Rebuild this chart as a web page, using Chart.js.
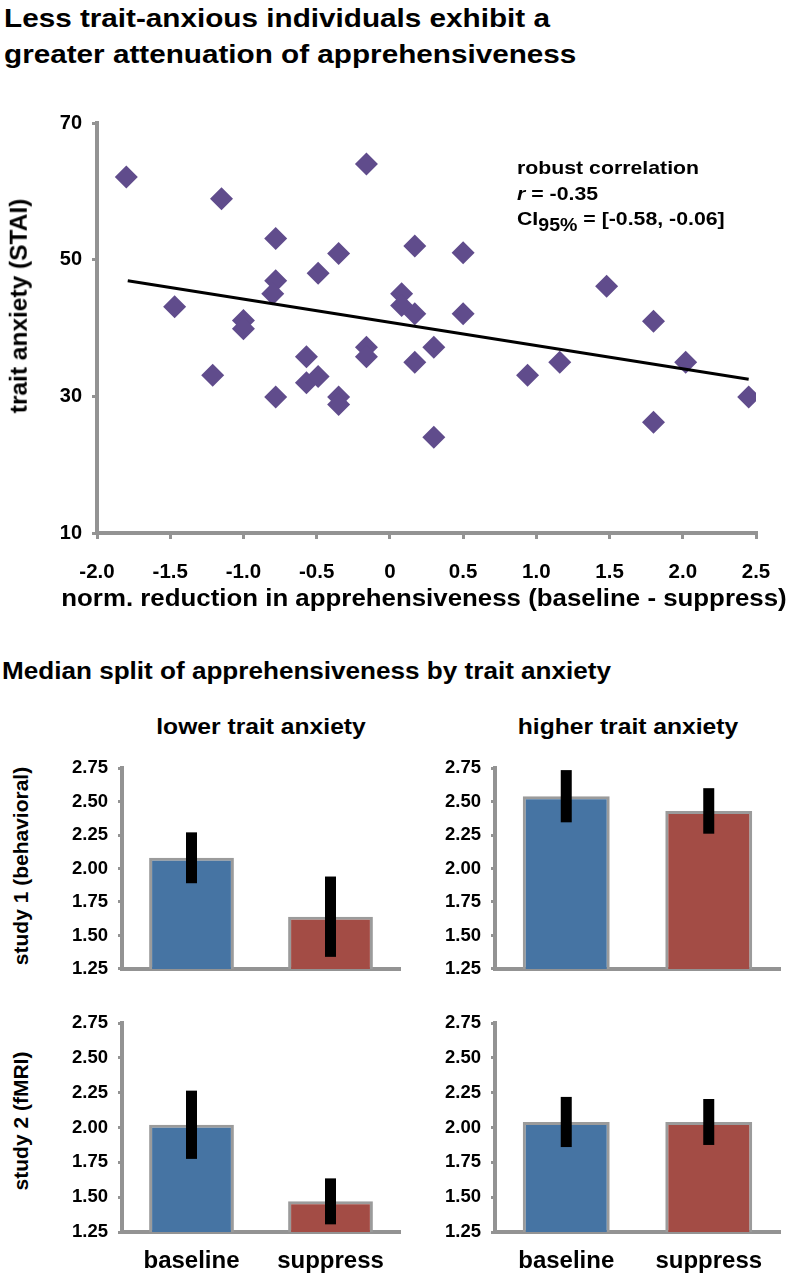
<!DOCTYPE html>
<html>
<head>
<meta charset="utf-8">
<script src="https://cdn.jsdelivr.net/npm/chart.js@4.4.1/dist/chart.umd.min.js"></script>
<style>
  body { margin: 0; background: #fff; }
  #page { position: relative; width: 796px; height: 1277px; overflow: hidden;
          font-family: 'Liberation Sans', Arial, Helvetica, sans-serif; font-weight: bold; color: #000; }
  .txt { position: absolute; white-space: nowrap; line-height: 1; }
  .stretch { transform-origin: 0 0; transform: scaleX(1.12); }
  .ctr { transform: translate(-50%, -50%) scaleX(1.12); }
  .rot { transform: translate(-50%, -50%) rotate(-90deg); }
  canvas { position: absolute; }
  sub { font-size: 0.92em; vertical-align: -6px; line-height: 0; }
</style>
</head>
<body>
<div id="page">
  <!-- titles -->
  <div class="txt stretch" style="left:4px; top:4.5px; font-size:26.5px">Less trait-anxious individuals exhibit a</div>
  <div class="txt stretch" style="left:4px; top:40.5px; font-size:26.5px">greater attenuation of apprehensiveness</div>

  <!-- scatter -->
  <canvas id="scatter" width="796" height="490" style="left:0; top:100px"></canvas>
  <div class="txt rot" style="left:19px; top:306px; font-size:24.5px">trait anxiety (STAI)</div>
  <div class="txt" style="left:424px; top:599px; font-size:23.5px; transform:translate(-50%, -50%) scaleX(1.1)">norm. reduction in apprehensiveness (baseline - suppress)</div>
  <div class="txt stretch" style="left:517px; top:158px; font-size:19px">robust correlation</div>
  <div class="txt stretch" style="left:517px; top:184px; font-size:19px"><i>r</i> = -0.35</div>
  <div class="txt stretch" style="left:517px; top:209px; font-size:19px">CI<sub>95%</sub> = [-0.58, -0.06]</div>

  <!-- bar panels -->
  <div class="txt stretch" style="left:2px; top:660px; font-size:23.3px">Median split of apprehensiveness by trait anxiety</div>
  <div class="txt ctr" style="left:261px; top:727px; font-size:22px">lower trait anxiety</div>
  <div class="txt ctr" style="left:628px; top:727px; font-size:22px">higher trait anxiety</div>
  <div class="txt rot" style="left:20px; top:866px; font-size:21px">study 1 (behavioral)</div>
  <div class="txt rot" style="left:20px; top:1121px; font-size:21px">study 2 (fMRI)</div>

  <canvas id="s1low" width="370" height="243" style="left:40px; top:747px"></canvas>
  <canvas id="s1high" width="377" height="243" style="left:413px; top:747px"></canvas>
  <canvas id="s2low" width="370" height="275" style="left:40px; top:1002px"></canvas>
  <canvas id="s2high" width="377" height="275" style="left:413px; top:1002px"></canvas>
</div>
<script>
  // scatter: norm. reduction (x) vs trait anxiety (y)
  var reduction = [-1.80, -1.47, -1.15, -0.78, -1.00, -1.00, -0.78, -0.80, -0.49, -0.35, -0.16, -0.57,
                   -0.16, -0.16, -1.21, -0.78, -0.57, -0.49, -0.35, -0.35, 0.08, 0.08, 0.17, 0.17,
                   0.50, 0.50, 1.48, 1.80, 0.17, 0.30, 0.30, 0.94, 1.16, 1.80, 2.02, 2.45];
  var anxiety = [62.1, 43.1, 58.9, 53.1, 41.1, 39.9, 46.9, 45.0, 48.0, 50.9, 64.0, 35.8,
                 37.2, 35.8, 33.1, 29.9, 32.0, 32.9, 29.9, 28.8, 45.0, 43.3, 42.1, 52.0,
                 51.0, 42.1, 46.1, 41.0, 35.0, 37.2, 24.0, 33.1, 35.0, 26.2, 35.0, 29.9];
  // robust fit line end points
  var fitX = [-1.79, 2.45];
  var fitY = [46.9, 32.5];

  // bar panels
  var conditions = ['baseline', 'suppress'];
  var study1Lower = [2.08, 1.64],  study1LowerErr = [0.19, 0.30];
  var study1Higher = [2.54, 2.43], study1HigherErr = [0.195, 0.17];
  var study2Lower = [2.02, 1.47],  study2LowerErr = [0.245, 0.165];
  var study2Higher = [2.04, 2.04], study2HigherErr = [0.18, 0.165];

  var axisGrey = '#939393';
  var boldFont = function (size) {
    return { family: "'Liberation Sans', Arial, sans-serif", size: size, weight: 'bold' };
  };

  new Chart(document.getElementById('scatter'), {
    data: {
      datasets: [{
        type: 'line',
        data: fitX.map(function (x, i) { return { x: x, y: fitY[i] }; }),
        borderColor: '#000',
        borderWidth: 3,
        pointRadius: 0,
        order: 0
      }, {
        type: 'scatter',
        data: reduction.map(function (x, i) { return { x: x, y: anxiety[i] }; }),
        pointStyle: 'rectRot',
        pointRadius: 11.5,
        backgroundColor: '#604c8c',
        borderWidth: 0,
        order: 1
      }]
    },
    options: {
      responsive: false,
      animation: false,
      layout: { padding: { left: 0, right: 40, top: 23, bottom: 0 } },
      plugins: { legend: { display: false }, tooltip: { enabled: false } },
      scales: {
        x: {
          type: 'linear', min: -2, max: 2.5,
          border: { color: axisGrey, width: 4 },
          grid: { drawOnChartArea: false, color: axisGrey, lineWidth: 3, tickLength: 6 },
          ticks: {
            stepSize: 0.5, padding: 21, color: '#000', maxRotation: 0, autoSkip: false,
            font: boldFont(20.5),
            callback: function (v) { return v === 0 ? '0' : v.toFixed(1); }
          },
          afterFit: function (s) { s.height = 57; }
        },
        y: {
          type: 'linear', min: 10, max: 70,
          border: { color: axisGrey, width: 4 },
          grid: { drawOnChartArea: false, color: axisGrey, lineWidth: 3, tickLength: 5 },
          ticks: { stepSize: 20, padding: 10, color: '#000', font: boldFont(20) },
          afterFit: function (s) { s.width = 97; }
        }
      }
    }
  });

  // draws the black standard-error bars on top of the bars
  var errorBars = {
    id: 'errorBars',
    afterDatasetsDraw: function (chart) {
      var ds = chart.data.datasets[0];
      var meta = chart.getDatasetMeta(0);
      var y = chart.scales.y;
      var ctx = chart.ctx;
      ctx.save();
      ctx.fillStyle = '#000';
      meta.data.forEach(function (bar, i) {
        var top = y.getPixelForValue(ds.data[i] + ds.errors[i]);
        var bot = y.getPixelForValue(ds.data[i] - ds.errors[i]);
        ctx.fillRect(bar.x - 5.5, top, 11, bot - top);
      });
      ctx.restore();
    }
  };

  function makeBar(id, values, errors, showLabels) {
    new Chart(document.getElementById(id), {
      type: 'bar',
      data: {
        labels: conditions,
        datasets: [{
          data: values,
          errors: errors,
          backgroundColor: ['#4674a3', '#a34c45'],
          borderColor: '#9b9b9b',
          borderWidth: 3,
          borderSkipped: false,
          barPercentage: 0.61,
          categoryPercentage: 1
        }]
      },
      options: {
        responsive: false,
        animation: false,
        layout: { padding: { left: 0, right: 10, top: 15, bottom: 0 } },
        plugins: { legend: { display: false }, tooltip: { enabled: false } },
        scales: {
          x: {
            border: { color: axisGrey, width: 4 },
            grid: { display: false, drawTicks: false },
            ticks: { display: showLabels, padding: 15, color: '#000', font: boldFont(24) },
            afterFit: function (s) { s.height = showLabels ? 45 : 16; }
          },
          y: {
            min: 1.25, max: 2.75,
            border: { color: axisGrey, width: 4 },
            grid: { drawOnChartArea: false, color: axisGrey, lineWidth: 3, tickLength: 4 },
            ticks: {
              stepSize: 0.25, padding: 10, color: '#000', font: boldFont(18.5),
              callback: function (v) { return v.toFixed(2); }
            },
            afterFit: function (s) { s.width = 82; }
          }
        }
      },
      plugins: [errorBars]
    });
  }

  makeBar('s1low', study1Lower, study1LowerErr, false);
  makeBar('s1high', study1Higher, study1HigherErr, false);
  makeBar('s2low', study2Lower, study2LowerErr, true);
  makeBar('s2high', study2Higher, study2HigherErr, true);
</script>
</body>
</html>
